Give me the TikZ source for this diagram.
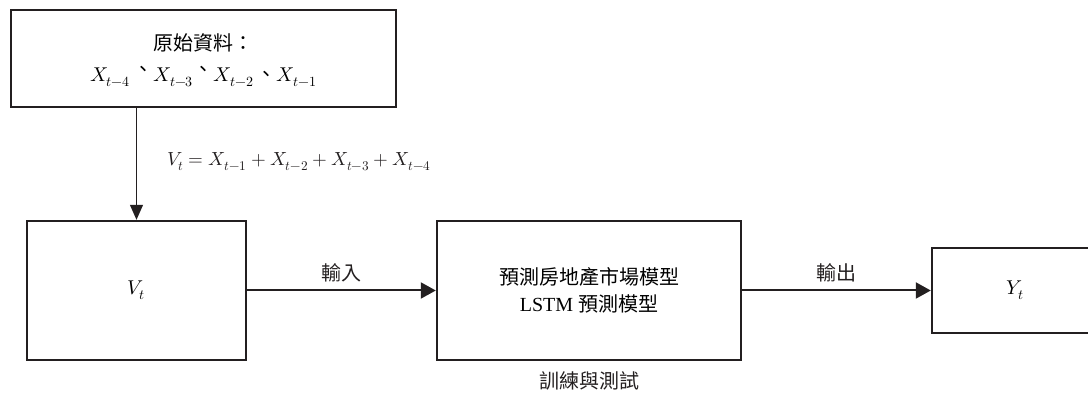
\documentclass[tikz,border=0pt]{standalone}
\usepackage{fontspec}
\usepackage{unicode-math}
\setmainfont{Liberation Serif}
\setmathfont{Latin Modern Math}
\newfontfamily\cjk{Noto Sans CJK TC}
\usetikzlibrary{arrows.meta,positioning}

\definecolor{ink}{HTML}{231F20}

\tikzset{
  box/.style={draw=ink, line width=2.4pt, rectangle, inner sep=0pt, align=center,
              font=\fontsize{20}{27}\selectfont},
  flow/.style={draw=ink, line width=2pt, -{Triangle[length=15pt,width=16pt]}},
  drop/.style={draw=ink, line width=1.3pt, -{Triangle[length=15pt,width=13pt]}},
  lbl/.style={font=\fontsize{20}{22}\selectfont\cjk, text=ink, inner sep=0pt},
  eq/.style={font=\fontsize{19}{22}\selectfont, text=ink, inner sep=0pt}
}

\begin{document}
\begin{tikzpicture}[x=1pt, y=1pt]
  \clip (0,0) rectangle (1088,393);

  % source data box
  \node[box, minimum width=385pt, minimum height=97pt] (src) at (203.5,334.5)
    {\\[-6pt]{\cjk 原始資料：}\\[4pt]
     $X_{t-4}$\,\raisebox{0.55ex}{\cjk 、}$X_{t-3}$\raisebox{0.55ex}{\cjk 、}$X_{t-2}$\,{\cjk 、}$X_{t-1}$};

  % summed input
  \node[box, minimum width=219pt, minimum height=139pt] (vt) at (136.5,102.5) {$V_t$};

  % forecasting model
  \node[box, minimum width=304pt, minimum height=139pt] (model) at (589,102.5)
    {{\cjk 預測房地產市場模型}\\LSTM {\cjk 預測模型}};

  % output
  \node[box, minimum width=166pt, minimum height=85pt] (out) at (1015,102.5) {$Y_t$};

  % connectors
  \draw[drop] (vt.north |- src.south) -- (vt.north);
  \draw[flow] (vt.east) -- (model.west)
    node[lbl, midway, yshift=18pt] (inlbl) {輸入};
  \draw[flow] (model.east) -- (out.west)
    node[lbl, midway, yshift=18pt] (outlbl) {輸出};

  % formula beside the vertical connector
  \node[eq, anchor=west] (formula) at (167,231)
    {$V_t = X_{t-1} + X_{t-2} + X_{t-3} + X_{t-4}$};

  % caption under the model
  \node[lbl] (train) at ([yshift=-20pt]model.south) {訓練與測試};
\end{tikzpicture}
\end{document}
